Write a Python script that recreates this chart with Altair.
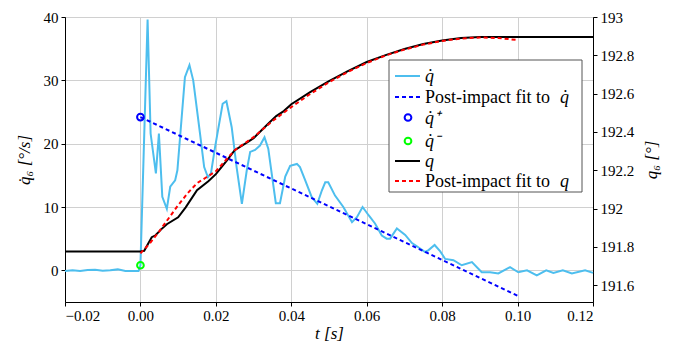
import altair as alt
import pandas as pd

# ---------------- data ----------------
# joint velocity qdot_6 [deg/s]
qdot_t = [-0.02, -0.018, -0.016, -0.014, -0.012, -0.010, -0.008, -0.006, -0.004, -0.002, -0.0005,
          0.0, 0.0019, 0.0027, 0.0041, 0.0049, 0.0058, 0.0070, 0.0079, 0.0092, 0.0098,
          0.0118, 0.0130, 0.0140, 0.0158, 0.0169, 0.0179, 0.0187, 0.0198, 0.0218, 0.0228,
          0.0242, 0.0255, 0.0269, 0.0282, 0.0291, 0.0304, 0.0317, 0.0329, 0.0339, 0.0348,
          0.0359, 0.0370, 0.0384, 0.0397, 0.0415, 0.0423, 0.0437, 0.0454, 0.0469, 0.0481,
          0.0490, 0.0498, 0.0516, 0.0538, 0.0561, 0.0574, 0.0589, 0.0605, 0.0622, 0.0640,
          0.0653, 0.0662, 0.0680, 0.0702, 0.0720, 0.0733, 0.0755, 0.0764, 0.0780, 0.0795,
          0.0808, 0.0830, 0.0852, 0.0879, 0.0905, 0.0927, 0.0949, 0.0980, 0.1002, 0.1025,
          0.1051, 0.1076, 0.1095, 0.1120, 0.1144, 0.1179, 0.12]
qdot_v = [-0.1, 0.0, -0.1, 0.05, 0.1, -0.05, 0.0, 0.15, -0.1, -0.1, -0.1,
          0.8, 39.6, 21.6, 15.3, 21.6, 11.6, 9.7, 13.2, 14.2, 15.8,
          30.5, 32.4, 30.0, 21.6, 16.3, 14.7, 15.3, 19.5, 26.3, 26.7,
          22.6, 16.3, 10.5, 15.8, 18.7, 19.0, 19.7, 21.0, 19.2, 15.3,
          10.6, 10.6, 14.8, 16.5, 16.8, 16.3, 14.2, 11.6, 10.5, 12.6,
          13.9, 13.9, 11.8, 10.0, 7.6, 8.4, 10.0, 8.7, 7.4, 5.5,
          5.0, 5.0, 6.6, 5.6, 4.3, 3.8, 2.9, 3.2, 4.0, 3.0,
          1.8, 1.6, 0.8, 1.3, -0.3, -0.3, -0.5, 0.5, -0.3, 0.0,
          -0.8, 0.0, -0.4, 0.0, -0.5, 0.0, -0.4]

# linear post-impact fit to qdot
qdotfit_t = [0.0, 0.1]
qdotfit_v = [24.2, -4.0]

# qdot+ and qdot- markers
qdot_plus = [0.0, 24.2]
qdot_minus = [0.0, 0.8]

# joint position q_6 [deg]
q_t = [-0.02, 0.0, 0.001, 0.003, 0.004, 0.0055, 0.007, 0.010, 0.012, 0.015, 0.018,
       0.020, 0.023, 0.025, 0.028, 0.030, 0.034, 0.036, 0.038, 0.040, 0.045,
       0.050, 0.055, 0.060, 0.065, 0.070, 0.075, 0.080, 0.085, 0.090, 0.100,
       0.110, 0.120]
q_v = [191.777, 191.777, 191.780, 191.851, 191.861, 191.892, 191.919, 191.955, 192.007, 192.096, 192.143,
       192.180, 192.253, 192.305, 192.342, 192.368, 192.446, 192.483, 192.509, 192.545, 192.608,
       192.666, 192.718, 192.765, 192.801, 192.833, 192.859, 192.877, 192.890, 192.896, 192.896,
       192.896, 192.895]

# post-impact fit to q
qfit_t = [0.0, 0.0025, 0.005, 0.0075, 0.010, 0.0125, 0.015, 0.0175, 0.020, 0.025, 0.030,
          0.035, 0.040, 0.045, 0.050, 0.055, 0.060, 0.065, 0.070, 0.075, 0.080,
          0.085, 0.090, 0.095, 0.100]
qfit_v = [191.767, 191.819, 191.882, 191.950, 192.018, 192.080, 192.133, 192.164, 192.195, 192.305, 192.373,
          192.457, 192.530, 192.598, 192.660, 192.713, 192.760, 192.799, 192.830, 192.856, 192.875,
          192.888, 192.893, 192.890, 192.880]

x_ticks = [-0.02, 0.0, 0.02, 0.04, 0.06, 0.08, 0.10, 0.12]
left_ticks = [0, 10, 20, 30, 40]
right_ticks = [191.6, 191.8, 192.0, 192.2, 192.4, 192.6, 192.8, 193.0]

legend_labels = ["q̇", "Post-impact fit to ", "q̇⁺", "q̇⁻", "q", "Post-impact fit to "]
legend_tail = ["", "q̇", "", "", "", "q"]

# ---------------- styling ----------------
FONT = "Liberation Serif"
LIGHTBLUE = "#4DBEEE"
BLUE = "#0000FF"
GREEN = "#00FF00"
RED = "#FF0000"

df_qdot = pd.DataFrame({"t": qdot_t, "v": qdot_v})
df_qdotfit = pd.DataFrame({"t": qdotfit_t, "v": qdotfit_v})
df_plus = pd.DataFrame({"t": [qdot_plus[0]], "v": [qdot_plus[1]]})
df_minus = pd.DataFrame({"t": [qdot_minus[0]], "v": [qdot_minus[1]]})
df_q = pd.DataFrame({"t": q_t, "q": q_v})
df_qfit = pd.DataFrame({"t": qfit_t, "q": qfit_v})

x_enc = alt.X("t:Q",
              scale=alt.Scale(domain=[-0.02, 0.12], nice=False, zero=False),
              axis=alt.Axis(values=x_ticks, format=".2f", title="t [s]", grid=True,
                            titleFontStyle="italic", titlePadding=2, labelPadding=2))
y_left = alt.Y("v:Q",
               scale=alt.Scale(domain=[-5, 40], nice=False, zero=False),
               axis=alt.Axis(values=left_ticks, title="q̇₆ [°/s]", orient="left", grid=True,
                             titleFontStyle="italic", titlePadding=10))
y_right = alt.Y("q:Q",
                scale=alt.Scale(domain=[191.513, 193.0], nice=False, zero=False),
                axis=alt.Axis(values=right_ticks, format="~f", title="q₆ [°]", orient="right",
                              grid=False, titleFontStyle="italic", titlePadding=27, titleAngle=270))

line_qdot = alt.Chart(df_qdot).mark_line(color=LIGHTBLUE, strokeWidth=2).encode(x=x_enc, y=y_left)
line_qdotfit = alt.Chart(df_qdotfit).mark_line(color=BLUE, strokeWidth=2, strokeDash=[4, 3]).encode(x=x_enc, y=y_left)
pt_plus = alt.Chart(df_plus).mark_point(shape="circle", filled=False, color=BLUE, size=45, strokeWidth=2,
                                        opacity=1).encode(x=x_enc, y=y_left)
pt_minus = alt.Chart(df_minus).mark_point(shape="circle", filled=False, color=GREEN, size=45, strokeWidth=2,
                                          opacity=1).encode(x=x_enc, y=y_left)
left_layer = alt.layer(line_qdot, line_qdotfit, pt_plus, pt_minus)

line_q = alt.Chart(df_q).mark_line(color="black", strokeWidth=2).encode(x=x_enc, y=y_right)
line_qfit = alt.Chart(df_qfit).mark_line(color=RED, strokeWidth=2, strokeDash=[4, 3]).encode(x=x_enc, y=y_right)
right_layer = alt.layer(line_q, line_qfit)

# ---------------- legend (drawn inside the plot) ----------------
one = alt.Data(values=[{"a": 1}])
row_y = [59, 80, 100.5, 124, 144, 164]
leg = [alt.Chart(one).mark_rect(fill="white", stroke="#555555", strokeWidth=1).encode(
    x=alt.value(324), x2=alt.value(517), y=alt.value(43), y2=alt.value(175))]
sym_styles = [("line", LIGHTBLUE, None), ("line", BLUE, [4, 3]), ("pt", BLUE, None),
              ("pt", GREEN, None), ("line", "black", None), ("line", RED, [4, 3])]
for i, (kind, col, dash) in enumerate(sym_styles):
    if kind == "line":
        kw = dict(color=col, strokeWidth=2)
        if dash:
            kw["strokeDash"] = dash
        leg.append(alt.Chart(one).mark_rule(**kw).encode(
            x=alt.value(330), x2=alt.value(355), y=alt.value(row_y[i])))
    else:
        leg.append(alt.Chart(one).mark_point(shape="circle", filled=False, color=col, size=45,
                                             strokeWidth=2, opacity=1).encode(
            x=alt.value(343), y=alt.value(row_y[i])))
    lab = legend_labels[i]
    italic = not lab.startswith("Post")
    tkw = dict(align="left", baseline="middle", font=FONT, fontSize=18, color="black")
    if italic:
        tkw["fontStyle"] = "italic"
    leg.append(alt.Chart(one).mark_text(**tkw).encode(
        x=alt.value(360), y=alt.value(row_y[i] + 1), text=alt.value(lab)))
    if legend_tail[i]:
        leg.append(alt.Chart(one).mark_text(align="left", baseline="middle", font=FONT, fontSize=18,
                                            fontStyle="italic", color="black").encode(
            x=alt.value(495), y=alt.value(row_y[i] + 1), text=alt.value(legend_tail[i])))
legend_layer = alt.layer(*leg)

chart = alt.layer(left_layer, right_layer, legend_layer).resolve_scale(y="independent").properties(
    width=528, height=285,
    autosize=alt.AutoSizeParams(type="none"),
    padding={"left": 65, "top": 17, "right": 92, "bottom": 46},
).configure_view(stroke="black", strokeWidth=1).configure_axis(
    labelFont=FONT, titleFont=FONT, labelFontSize=15, titleFontSize=17,
    labelColor="black", titleColor="black", titleFontWeight="normal",
    domainColor="black", tickColor="black", tickSize=4,
    gridColor="#d0d0d0", gridWidth=1, labelPadding=3,
)

chart.save("out.html", embed_options={"renderer": "svg", "actions": False})
